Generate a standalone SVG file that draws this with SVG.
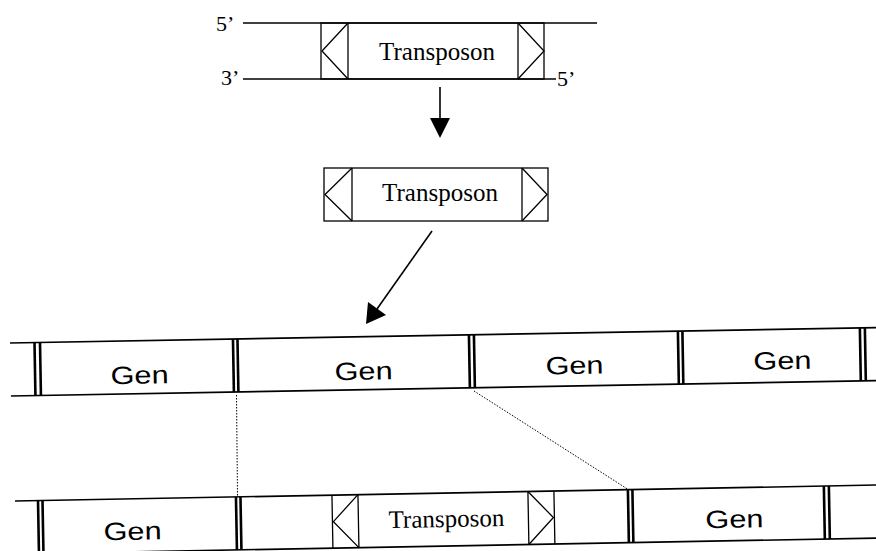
<svg xmlns="http://www.w3.org/2000/svg" width="876" height="551" viewBox="0 0 876 551">
<style>
.ln{stroke:#000;stroke-width:1.6;fill:none}
.thin{stroke:#000;stroke-width:1.3;fill:none}
.dv{stroke:#000;stroke-width:2.6;fill:none}
.dot{stroke:#000;stroke-width:1;stroke-dasharray:1.5 1.5;fill:none}
.tr{font-family:"Liberation Serif","Times New Roman",serif;font-size:25px;fill:#000}
.lab{font-family:"Liberation Serif","Times New Roman",serif;font-size:22px;fill:#000}
.gen{font-family:"Liberation Sans",Arial,sans-serif;font-size:25px;fill:#000}
</style>
<rect width="876" height="551" fill="#fff"/>
<g id="dsdna">
<line class="ln" x1="243" y1="23" x2="597" y2="23"/>
<line class="ln" x1="243" y1="79" x2="556" y2="79"/>
<text class="lab" x="216" y="31">5’</text>
<text class="lab" x="221" y="85">3’</text>
<text class="lab" x="557" y="86">5’</text>
<rect class="thin" x="321" y="23" width="223" height="56"/>
<line class="thin" x1="348" y1="23" x2="348" y2="79"/>
<line class="thin" x1="518" y1="23" x2="518" y2="79"/>
<polyline class="thin" points="348,23 322,51 348,79"/>
<polyline class="thin" points="518,23 544,51 518,79"/>
<text class="tr" x="437" y="60" text-anchor="middle">Transposon</text>
</g>
<g id="free-transposon">
<rect class="thin" x="324" y="168" width="224" height="53"/>
<line class="thin" x1="352" y1="168" x2="352" y2="221"/>
<line class="thin" x1="522" y1="168" x2="522" y2="221"/>
<polyline class="thin" points="352,168 325,194.5 352,221"/>
<polyline class="thin" points="522,168 547,194.5 522,221"/>
<text class="tr" x="440" y="201" text-anchor="middle">Transposon</text>
</g>
<g id="gene-row-1" transform="translate(10,343) rotate(-1.02)">
<line class="ln" x1="0" y1="0" x2="867" y2="0"/>
<line class="ln" x1="0" y1="53" x2="867" y2="53"/>
<g class="dv">
<line x1="24.5" y1="0" x2="24.5" y2="53"/><line x1="30" y1="0" x2="30" y2="53"/>
<line x1="223" y1="0" x2="223" y2="53"/><line x1="227.5" y1="0" x2="227.5" y2="53"/>
<line x1="459" y1="0" x2="459" y2="53"/><line x1="464" y1="0" x2="464" y2="53"/>
<line x1="668" y1="0" x2="668" y2="53"/><line x1="672.5" y1="0" x2="672.5" y2="53"/>
<line x1="850" y1="0" x2="850" y2="53"/><line x1="855" y1="0" x2="855" y2="53"/>
</g>
<text class="gen" x="129" y="43" text-anchor="middle" textLength="58" lengthAdjust="spacingAndGlyphs">Gen</text>
<text class="gen" x="353" y="43" text-anchor="middle" textLength="58" lengthAdjust="spacingAndGlyphs">Gen</text>
<text class="gen" x="564" y="41" text-anchor="middle" textLength="58" lengthAdjust="spacingAndGlyphs">Gen</text>
<text class="gen" x="772" y="40" text-anchor="middle" textLength="58" lengthAdjust="spacingAndGlyphs">Gen</text>
</g>
<g id="gene-row-2" transform="translate(15,501) rotate(-1.06)">
<line class="ln" x1="0" y1="0" x2="862" y2="0"/>
<line class="ln" x1="0" y1="53" x2="862" y2="53"/>
<g class="dv">
<line x1="23" y1="0" x2="23" y2="53"/><line x1="27.5" y1="0" x2="27.5" y2="53"/>
<line x1="221" y1="0" x2="221" y2="53"/><line x1="225.5" y1="0" x2="225.5" y2="53"/>
<line x1="613" y1="0" x2="613" y2="53"/><line x1="617.5" y1="0" x2="617.5" y2="53"/>
<line x1="809" y1="0" x2="809" y2="53"/><line x1="814" y1="0" x2="814" y2="53"/>
</g>
<text class="gen" x="117" y="41" text-anchor="middle" textLength="58" lengthAdjust="spacingAndGlyphs">Gen</text>
<text class="gen" x="719" y="40" text-anchor="middle" textLength="58" lengthAdjust="spacingAndGlyphs">Gen</text>
<g id="inserted-transposon">
<line class="thin" x1="317" y1="0" x2="317" y2="53"/>
<line class="thin" x1="343" y1="0" x2="343" y2="53"/>
<line class="thin" x1="513" y1="0" x2="513" y2="53"/>
<line class="thin" x1="539" y1="0" x2="539" y2="53"/>
<polyline class="thin" points="343,0 318,26.5 343,53"/>
<polyline class="thin" points="513,0 538,26.5 513,53"/>
<text class="tr" x="431" y="34" text-anchor="middle">Transposon</text>
</g>
</g>
<g id="connectors">
<line class="ln" x1="440" y1="87" x2="440" y2="120"/>
<polygon points="430,118 450,118 440,138" fill="#000"/>
<line class="ln" x1="432" y1="231" x2="377" y2="309"/>
<polygon points="366,324 368,302 386,315" fill="#000"/>
<line class="dot" x1="236.5" y1="395" x2="237.5" y2="496"/>
<line class="dot" x1="474" y1="391" x2="629" y2="490"/>
</g>
</svg>
